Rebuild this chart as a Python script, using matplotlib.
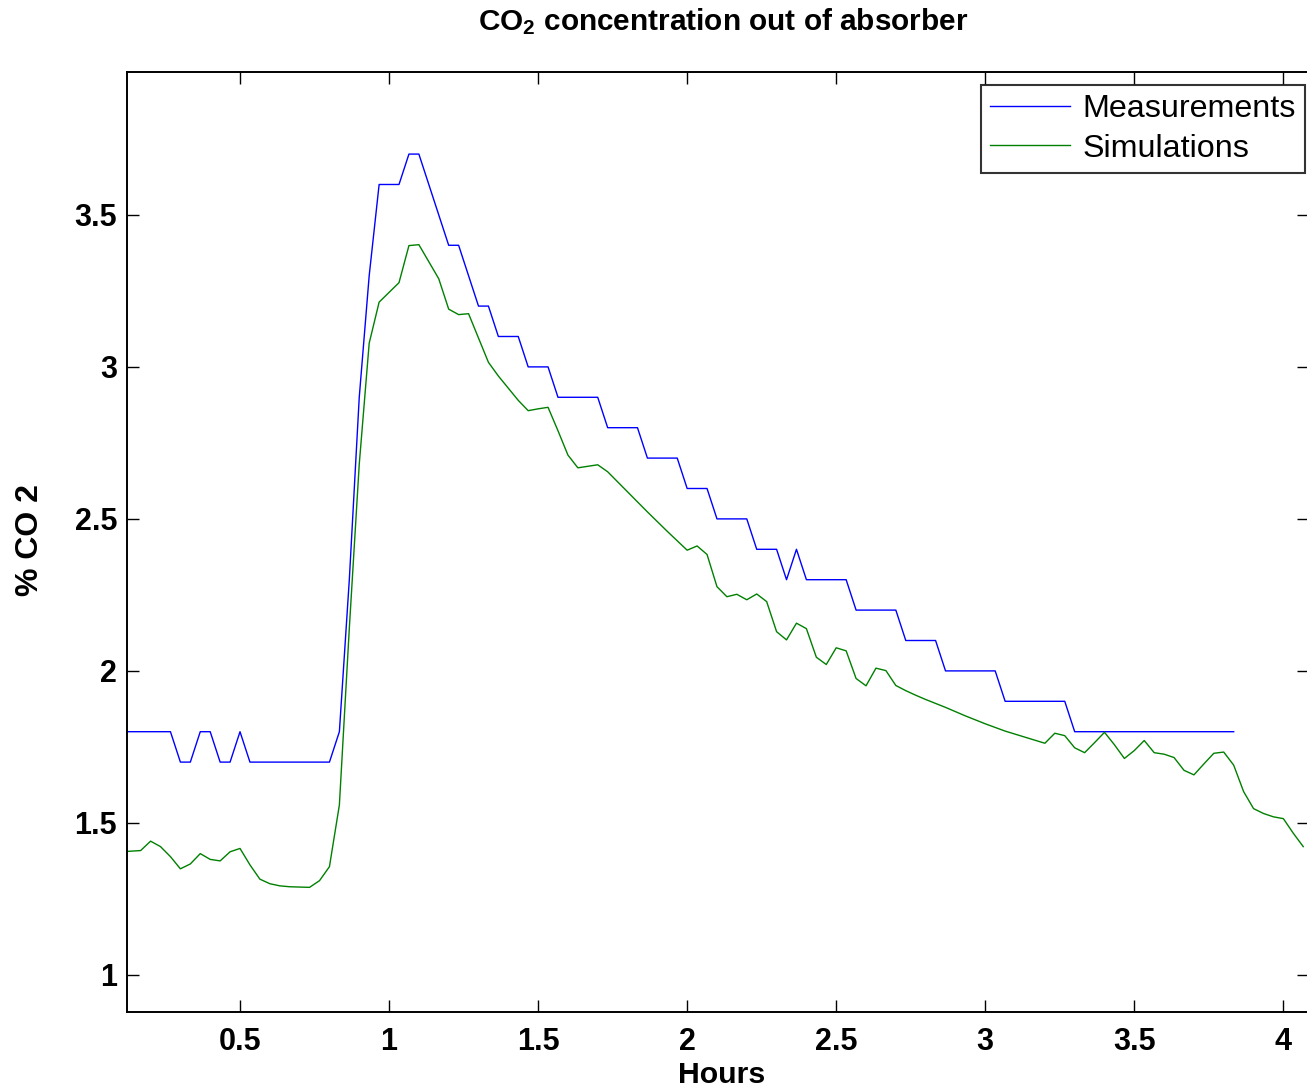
import numpy as np
import matplotlib
matplotlib.use("Agg")
from matplotlib import pyplot as plt
from matplotlib.ticker import FuncFormatter

plt.rcParams['font.family'] = ['Liberation Sans', 'DejaVu Sans']
plt.rcParams['mathtext.fontset'] = 'custom'
plt.rcParams['mathtext.rm'] = 'Liberation Sans'
plt.rcParams['mathtext.bf'] = 'Liberation Sans:bold'
plt.rcParams['mathtext.it'] = 'Liberation Sans:italic'

# sample index (one sample every 2 minutes), hours = index / 30
first_sample = 3
step_hours = 1 / 30

# measured % CO2 (samples 3..115)
measurements = [1.8, 1.8, 1.8, 1.8, 1.8, 1.8, 1.7, 1.7, 1.8, 1.8,
                1.7, 1.7, 1.8, 1.7, 1.7, 1.7, 1.7, 1.7, 1.7, 1.7,
                1.7, 1.7, 1.8, 2.3, 2.9, 3.3, 3.6, 3.6, 3.6, 3.7,
                3.7, 3.6, 3.5, 3.4, 3.4, 3.3, 3.2, 3.2, 3.1, 3.1,
                3.1, 3.0, 3.0, 3.0, 2.9, 2.9, 2.9, 2.9, 2.9, 2.8,
                2.8, 2.8, 2.8, 2.7, 2.7, 2.7, 2.7, 2.6, 2.6, 2.6,
                2.5, 2.5, 2.5, 2.5, 2.4, 2.4, 2.4, 2.3, 2.4, 2.3,
                2.3, 2.3, 2.3, 2.3, 2.2, 2.2, 2.2, 2.2, 2.2, 2.1,
                2.1, 2.1, 2.1, 2.0, 2.0, 2.0, 2.0, 2.0, 2.0, 1.9,
                1.9, 1.9, 1.9, 1.9, 1.9, 1.9, 1.8, 1.8, 1.8, 1.8,
                1.8, 1.8, 1.8, 1.8, 1.8, 1.8, 1.8, 1.8, 1.8, 1.8,
                1.8, 1.8, 1.8]

# simulated % CO2 (samples 3..122)
simulations = [1.405, 1.407, 1.409, 1.44, 1.422, 1.389, 1.349, 1.365, 1.399, 1.38,
               1.375, 1.405, 1.416, 1.362, 1.315, 1.30, 1.293, 1.29, 1.289, 1.288,
               1.31, 1.356, 1.559, 2.14, 2.68, 3.078, 3.213, 3.245, 3.277, 3.399,
               3.402, 3.346, 3.29, 3.19, 3.172, 3.175, 3.095, 3.015, 2.97, 2.93,
               2.89, 2.856, 2.862, 2.867, 2.79, 2.71, 2.668, 2.673, 2.678, 2.655,
               2.622, 2.589, 2.556, 2.523, 2.491, 2.459, 2.428, 2.397, 2.411, 2.383,
               2.277, 2.244, 2.252, 2.234, 2.253, 2.228, 2.129, 2.102, 2.157, 2.139,
               2.045, 2.021, 2.076, 2.066, 1.975, 1.951, 2.009, 2.001, 1.952, 1.935,
               1.92, 1.906, 1.893, 1.88, 1.866, 1.852, 1.839, 1.826, 1.814, 1.802,
               1.792, 1.782, 1.772, 1.762, 1.795, 1.787, 1.747, 1.731, 1.764, 1.798,
               1.757, 1.712, 1.738, 1.771, 1.731, 1.726, 1.715, 1.673, 1.658, 1.694,
               1.729, 1.733, 1.69, 1.603, 1.547, 1.531, 1.52, 1.514, 1.466, 1.422]

xticks = [0.5, 1, 1.5, 2, 2.5, 3, 3.5, 4]
yticks = [1, 1.5, 2, 2.5, 3, 3.5]

t_meas = (first_sample + np.arange(len(measurements))) * step_hours
t_sim = (first_sample + np.arange(len(simulations))) * step_hours

W, H = 1307, 1089
fig = plt.figure(figsize=(W / 100, H / 100), dpi=100)
ax = fig.add_axes([127 / W, 1 - 1012 / H, (1309 - 127) / W, (1012 - 72) / H])

ax.plot(t_meas, measurements, color=(0, 0, 1), linewidth=1.0, label='Measurements')
ax.plot(t_sim, simulations, color=(0, 0.5, 0), linewidth=1.0, label='Simulations')

ax.set_xlim(0.1209, 4.086)
ax.set_ylim(0.878, 3.970)
ax.set_xticks(xticks)
ax.set_yticks(yticks)
fmt = FuncFormatter(lambda v, p: '%g' % v)
ax.xaxis.set_major_formatter(fmt)
ax.yaxis.set_major_formatter(fmt)
ax.tick_params(direction='in', length=8.6, width=1.0, top=True, right=True,
               labelsize=22)
ax.tick_params(axis='x', pad=11)
ax.tick_params(axis='y', pad=7.2)
for lab in ax.get_xticklabels() + ax.get_yticklabels():
    lab.set_fontweight('bold')
for s in ax.spines.values():
    s.set_linewidth(1.4)

# legend box in the top right corner
leg = ax.legend(loc='upper right', bbox_to_anchor=(1305 / W, 1 - 85 / H),
                bbox_transform=fig.transFigure, fontsize=23.2, frameon=True,
                fancybox=False, shadow=False, borderaxespad=0,
                handlelength=2.5, handletextpad=0.38, labelspacing=0.3,
                borderpad=0.28)
leg.get_frame().set_edgecolor('black')
leg.get_frame().set_linewidth(1.5)

fig.text(723 / W, 1 - 22 / H, r'CO$_\mathbf{2}$ concentration out of absorber',
         ha='center', va='center', fontsize=21.4, fontweight='bold')
fig.text(30 / W, 1 - 540 / H, '% CO 2', rotation=90, ha='center', va='center',
         fontsize=23, fontweight='bold')
fig.text(722 / W, 1 - 1075 / H, 'Hours', ha='center', va='center',
         fontsize=21.8, fontweight='bold')

fig.savefig('out.png', dpi=100)
